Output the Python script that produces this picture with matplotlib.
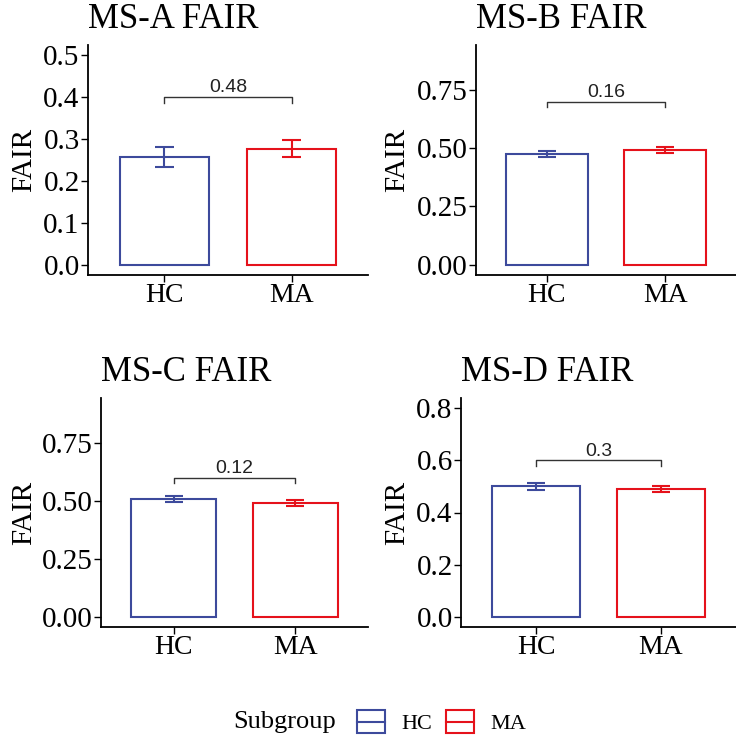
import matplotlib
matplotlib.use("Agg")
import matplotlib.pyplot as plt
from matplotlib.lines import Line2D
from matplotlib.patches import Rectangle
from matplotlib.legend_handler import HandlerBase

# ---- data ----
groups = ["HC", "MA"]
titles = ["MS-A FAIR", "MS-B FAIR", "MS-C FAIR", "MS-D FAIR"]
means = [
    [0.258, 0.277],
    [0.476, 0.491],
    [0.509, 0.490],
    [0.501, 0.491],
]
errs = [
    [0.024, 0.021],
    [0.013, 0.013],
    [0.014, 0.012],
    [0.013, 0.011],
]
p_labels = ["0.48", "0.16", "0.12", "0.3"]
bracket_y = [0.40, 0.70, 0.60, 0.60]
ytick_sets = [
    [0.0, 0.1, 0.2, 0.3, 0.4, 0.5],
    [0.00, 0.25, 0.50, 0.75],
    [0.00, 0.25, 0.50, 0.75],
    [0.0, 0.2, 0.4, 0.6, 0.8],
]
ytick_fmt = ["{:.1f}", "{:.2f}", "{:.2f}", "{:.1f}"]
y_top = [0.5, 0.9, 0.9, 0.8]

colors = {"HC": "#3D4A9C", "MA": "#E5121B"}

SERIF = ["Liberation Serif", "DejaVu Serif"]
SANS = ["Liberation Sans", "DejaVu Sans"]

W, H = 736, 744
fig = plt.figure(figsize=(W / 100, H / 100), dpi=100)

# panel rectangles in pixel coordinates: left, top, right, bottom
panels_px = [
    (88, 45, 368, 275),
    (476, 45, 736, 275),
    (101, 398, 368, 627),
    (461, 398, 736, 627),
]
ylabel_cx = [24, 397, 24, 397]


def px_rect(l, t, r, b):
    return [l / W, 1 - b / H, (r - l) / W, (b - t) / H]


xpos = [1, 2]
bar_w = 0.7
cap_hw = 0.075

for i, (l, t, r, b) in enumerate(panels_px):
    ax = fig.add_axes(px_rect(l, t, r, b))
    for j, g in enumerate(groups):
        c = colors[g]
        ax.bar(xpos[j], means[i][j], width=bar_w, facecolor="white",
               edgecolor=c, linewidth=1.5, zorder=2)
        lo = means[i][j] - errs[i][j]
        hi = means[i][j] + errs[i][j]
        ax.vlines(xpos[j], lo, hi, color=c, linewidth=1.5, zorder=3)
        ax.hlines([lo, hi], xpos[j] - cap_hw, xpos[j] + cap_hw, color=c,
                  linewidth=1.5, zorder=3)
    # significance bracket
    by = bracket_y[i]
    tick = 0.025 * y_top[i]
    ax.plot([xpos[0], xpos[0], xpos[1], xpos[1]],
            [by - tick, by, by, by - tick], color="#333333", linewidth=1.0,
            zorder=3)
    ax.text((xpos[0] + xpos[1]) / 2, by + 0.004 * y_top[i], p_labels[i],
            ha="center", va="bottom", fontsize=14, family=SANS, color="#222222")

    pad = 0.05 * y_top[i]
    ax.set_ylim(-pad, y_top[i] + pad)
    ax.set_xlim(0.4, 2.6)
    ax.set_xticks(xpos)
    ax.set_xticklabels(groups, family=SERIF, fontsize=20)
    ax.set_yticks(ytick_sets[i])
    ax.set_yticklabels([ytick_fmt[i].format(v) for v in ytick_sets[i]],
                       family=SERIF, fontsize=21)
    ax.tick_params(axis="both", length=5, width=1.0, pad=1, colors="black")
    for s in ["top", "right"]:
        ax.spines[s].set_visible(False)
    for s in ["left", "bottom"]:
        ax.spines[s].set_linewidth(1.3)
    ax.set_title(titles[i], loc="left", family=SERIF, fontsize=25, pad=12)
    ax.set_ylabel("FAIR", family=SERIF, fontsize=21)
    ax.yaxis.set_label_coords((ylabel_cx[i] - l) / (r - l), 0.5)
    ax.yaxis.label.set_va("center")


# legend keys: outlined box with a horizontal line through the middle
class BoxLineHandler(HandlerBase):
    def create_artists(self, legend, orig_handle, xdescent, ydescent,
                       width, height, fontsize, trans):
        c = orig_handle.get_color()
        rect = Rectangle((-xdescent, -ydescent), width, height,
                         facecolor="white", edgecolor=c, linewidth=1.5,
                         transform=trans)
        line = Line2D([-xdescent, -xdescent + width],
                      [-ydescent + height / 2] * 2, color=c, linewidth=1.5,
                      transform=trans)
        return [rect, line]


legend_y = 1 - 722 / H
fig.text(233 / W, legend_y, "Subgroup", family=SERIF, fontsize=19,
         ha="left", va="center")
handles = [Line2D([], [], color=colors[g]) for g in groups]
fig.legend(handles, groups, loc="center left", bbox_to_anchor=(357 / W, legend_y),
           ncol=2, frameon=False, handler_map={Line2D: BoxLineHandler()},
           handlelength=1.26, handleheight=1.22, columnspacing=0.6,
           handletextpad=0.75, borderpad=0, borderaxespad=0,
           prop={"family": SERIF, "size": 16})

fig.savefig("out.png", dpi=100, facecolor="white")
